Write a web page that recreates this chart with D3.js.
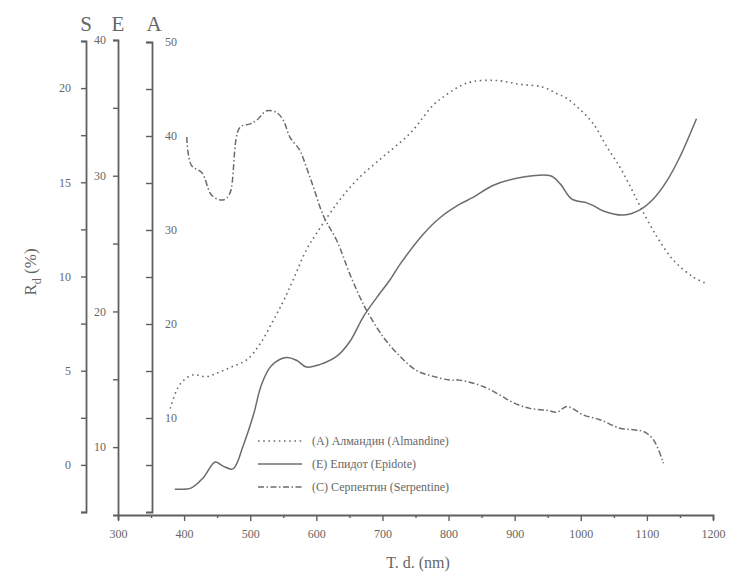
<!DOCTYPE html>
<html>
  <head>
    <meta charset="utf-8">
    <title>Diffuse reflectance spectra</title>
    <script src="https://d3js.org/d3.v7.min.js"></script>
    <style>
      body { margin: 0; background: #fff; }
      text { font-family: "Liberation Serif", "DejaVu Serif", serif; fill: #666; }
    </style>
  </head>
  <body>
    <svg width="738" height="576"></svg>

    <script>
      // wavelength (nm) and reflectance for each mineral
      const almandineNm = [379, 389, 399, 414, 434, 454, 474, 495, 515, 535, 550, 565, 585, 600, 631, 661, 701, 742, 777, 797, 817, 837, 873, 908, 943, 964, 979, 999, 1019, 1039, 1059, 1075, 1090, 1115, 1140, 1170, 1190];
      const almandineR = [11.0, 13.0, 14.0, 14.6, 14.4, 14.9, 15.5, 16.2, 17.9, 20.4, 22.4, 24.7, 27.9, 29.6, 32.8, 35.3, 37.8, 40.3, 43.3, 44.4, 45.3, 45.8, 45.9, 45.5, 45.2, 44.5, 44.0, 42.8, 41.3, 38.9, 36.7, 34.6, 32.5, 29.3, 26.8, 25.0, 24.3];

      const epidoteNm = [386, 411, 429, 447, 459, 474, 490, 505, 517, 532, 555, 570, 585, 606, 631, 651, 671, 691, 711, 727, 762, 787, 817, 837, 868, 913, 954, 969, 986, 1009, 1019, 1034, 1065, 1090, 1110, 1130, 1150, 1175];
      const epidoteR = [6.9, 7.0, 7.75, 8.9, 8.6, 8.4, 10.2, 12.4, 14.6, 16.0, 16.6, 16.4, 15.9, 16.1, 16.7, 17.8, 19.6, 21.0, 22.3, 23.5, 25.7, 26.9, 27.9, 28.4, 29.3, 29.9, 30.0, 29.4, 28.3, 28.0, 27.8, 27.4, 27.1, 27.5, 28.3, 29.6, 31.4, 34.2];

      const serpentineNm = [404, 411, 427, 442, 459, 469, 484, 500, 510, 525, 540, 550, 560, 575, 583, 595, 611, 631, 651, 666, 676, 701, 727, 752, 777, 802, 817, 853, 878, 898, 923, 949, 964, 979, 1004, 1029, 1059, 1080, 1095, 1110, 1125];
      const serpentineR = [17.4, 15.9, 15.5, 14.3, 14.06, 14.4, 17.9, 18.1, 18.3, 18.8, 18.7, 18.3, 17.4, 16.7, 16.0, 14.8, 13.2, 11.9, 10.1, 8.9, 8.2, 6.8, 5.75, 5.0, 4.7, 4.5, 4.5, 4.15, 3.7, 3.3, 3.0, 2.9, 2.8, 3.1, 2.65, 2.4, 1.95, 1.86, 1.77, 1.33, 0.09];

      const legendLabels = ["(A) Алмандин (Almandine)", "(E) Епидот (Epidote)", "(C) Серпентин (Serpentine)"];

      const svg = d3.select("svg");
      const grey = "#5f5f5f";

      // scales: one x, three stacked y axes (S, E, A)
      const x = d3.scaleLinear().domain([300, 1200]).range([118, 713]);
      const yS = d3.scaleLinear().domain([-2.5, 22.5]).range([512, 41]);
      const yE = d3.scaleLinear().domain([5, 40]).range([515, 40]);
      const yA = d3.scaleLinear().domain([0, 50]).range([512, 42]);

      function styleAxis(g) {
        g.select(".domain").attr("stroke", grey).attr("stroke-width", 1.8);
        g.selectAll(".tick line").attr("stroke", grey).attr("stroke-width", 1.4);
        g.selectAll("text").attr("fill", "#777").style("font-size", "12px")
          .style("font-family", "Liberation Serif, serif");
      }

      // x axis
      svg.append("g")
        .attr("transform", "translate(0,515)")
        .call(d3.axisBottom(x)
          .tickValues(d3.range(300, 1201, 50))
          .tickSizeOuter(0)
          .tickSize(5)
          .tickPadding(9)
          .tickFormat(d => d % 100 === 0 ? d : ""))
        .call(styleAxis)
        .call(g => g.selectAll(".tick line").attr("y2", d => d % 100 === 0 ? 6 : 3));

      // S axis
      svg.append("g")
        .attr("transform", "translate(86,0)")
        .call(d3.axisLeft(yS)
          .tickValues(d3.range(-2.5, 22.6, 2.5))
          .tickSizeOuter(0)
          .tickSize(5)
          .tickPadding(10)
          .tickFormat(d => d >= 0 && d % 5 === 0 ? d : ""))
        .call(styleAxis);

      // E axis
      svg.append("g")
        .attr("transform", "translate(118,0)")
        .call(d3.axisLeft(yE)
          .tickValues(d3.range(10, 41, 5))
          .tickSizeOuter(0)
          .tickSize(5)
          .tickPadding(7)
          .tickFormat(d => d % 10 === 0 ? d : ""))
        .call(styleAxis);

      // A axis, labels sit on the right
      svg.append("g")
        .attr("transform", "translate(152,0)")
        .call(d3.axisLeft(yA)
          .tickValues(d3.range(5, 51, 5))
          .tickSizeOuter(0)
          .tickSize(6)
          .tickFormat(d => d % 10 === 0 ? d : ""))
        .call(styleAxis)
        .call(g => g.selectAll(".tick text").attr("x", 13).attr("text-anchor", "start"));

      // axis letters
      svg.selectAll("text.head")
        .data([["S", 86], ["E", 118], ["A", 154]])
        .enter().append("text")
        .attr("class", "head")
        .attr("x", d => d[1])
        .attr("y", 31)
        .attr("text-anchor", "middle")
        .style("font-size", "21px")
        .text(d => d[0]);

      // titles
      svg.append("text")
        .attr("x", 418).attr("y", 568)
        .attr("text-anchor", "middle")
        .style("font-size", "16px")
        .text("T. d. (nm)");

      const yt = svg.append("text")
        .attr("transform", "translate(36,272) rotate(-90)")
        .attr("text-anchor", "middle")
        .style("font-size", "17px");
      yt.append("tspan").text("R");
      yt.append("tspan").attr("dy", 5).style("font-size", "12px").text("d");
      yt.append("tspan").attr("dy", -5).text(" (%)");

      // curves
      const series = [
        { nm: almandineNm, r: almandineR, y: yA, dash: "1.6,3.6", width: 1.6 },
        { nm: epidoteNm, r: epidoteR, y: yE, dash: null, width: 1.5 },
        { nm: serpentineNm, r: serpentineR, y: yS, dash: "6,2.5,1.5,2.5", width: 1.5 }
      ];

      series.forEach(s => {
        const line = d3.line()
          .x(i => x(s.nm[i]))
          .y(i => s.y(s.r[i]))
          .curve(d3.curveCatmullRom);
        svg.append("path")
          .attr("d", line(d3.range(s.nm.length)))
          .attr("fill", "none")
          .attr("stroke", "#6c6c6c")
          .attr("stroke-width", s.width)
          .attr("stroke-dasharray", s.dash);
      });

      // legend
      const legend = svg.append("g");
      series.forEach((s, i) => {
        const ly = 441 + i * 23;
        legend.append("line")
          .attr("x1", 258).attr("x2", 302)
          .attr("y1", ly).attr("y2", ly)
          .attr("stroke", "#6c6c6c")
          .attr("stroke-width", s.width)
          .attr("stroke-dasharray", s.dash);
        legend.append("text")
          .attr("x", 312).attr("y", ly + 4)
          .style("font-size", "12px")
          .text(legendLabels[i]);
      });
    </script>
  </body>
</html>
